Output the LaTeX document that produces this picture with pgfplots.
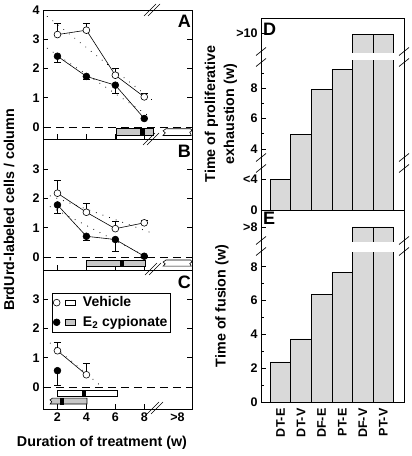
\documentclass[border=0pt]{standalone}
\usepackage{pgfplots}
\pgfplotsset{compat=1.18}
\usepackage{fontspec}
\setmainfont{Liberation Sans}
\newcommand\tl{\fontsize{12.5}{12.5}\selectfont\bfseries}
\newcommand\al{\fontsize{14.3}{16}\selectfont\bfseries}
\tikzset{letter/.style={anchor=north east, font=\fontsize{18}{18}\selectfont\bfseries, inner sep=0pt}}
\begin{document}
\begin{tikzpicture}[x=1pt,y=1pt]
\useasboundingbox (0,0) rectangle (412,456);
\pgfplotsset{
 every axis/.append style={scale only axis, clip=false, axis line style={line width=0.8pt},
   tick style={line width=0.7pt, black}, tick align=inside, major tick length=5pt, minor tick length=3pt,
   tick label style={font=\tl}, /pgf/number format/assume math mode=true},
 lp/.style={anchor=south west, width=149pt, xmin=1, xmax=11.3, xtick={2,4,6,8}, xticklabels={}, xtick pos=bottom, ytick pos=both, ytick={0,1,2,3}, yticklabels={0,1,2,3}},
 veh/.style={black, line width=0.6pt, mark=*, mark size=3.4pt, mark options={fill=white, line width=0.6pt}, error bars/.cd, y dir=plus, y explicit, error bar style={line width=0.6pt}, error mark options={rotate=90, mark size=3.5pt, line width=0.6pt}},
 e2/.style={black, line width=0.6pt, mark=*, mark size=3.4pt, error bars/.cd, y dir=minus, y explicit, error bar style={line width=0.6pt}, error mark options={rotate=90, mark size=3.5pt, line width=0.6pt}},
 reg/.style={black, line width=1.1pt, dash pattern=on 0.01pt off 7pt, line cap=round},
 zero/.style={black, line width=0.7pt, dash pattern=on 8pt off 5pt},
 rbar/.style={fill=black!22, draw=black, line width=0.6pt},
 wbar/.style={fill=white, draw=black, line width=0.6pt},
 mk/.style={fill=black, draw=black, line width=0.3pt},
}
% ---------- Panel A ----------
\begin{axis}[lp, at={(43pt,317pt)}, height=129pt, ymin=-0.41, ymax=4, ytick={0,1,2,3,4}, yticklabels={0,1,2,3,4}]
\addplot[zero] coordinates {(1,0) (11.3,0)};
\addplot[reg] coordinates {(1.3,3.78) (8.7,0.86)};
\addplot[reg] coordinates {(1.3,2.69) (8.4,0.35)};
\addplot[veh] coordinates {(2,3.16) +- (0,0.37) (4,3.31) +- (0,0.22) (6,1.77) +- (0,0.23) (8,1.03) +- (0,0.11)};
\addplot[e2] coordinates {(2,2.42) +- (0,0.2) (4,1.73) +- (0,0.1) (6,1.43) +- (0,0.29) (8,0.29) +- (0,0)};
\addplot[wbar] coordinates {(6.04,-0.28) (8.0,-0.28) (8.0,-0.41) (6.04,-0.41)} -- cycle;
\addplot[rbar] coordinates {(6.04,-0.06) (8.6,-0.06) (8.6,-0.28) (6.04,-0.28)} -- cycle;
\addplot[mk] coordinates {(7.7,-0.06) (7.98,-0.06) (7.98,-0.28) (7.7,-0.28)} -- cycle;
\addplot[wbar] coordinates {(9.5,-0.06) (11.2,-0.06) (11.3,-0.12) (11.15,-0.18) (11.25,-0.29) (9.3,-0.29) (9.45,-0.2) (9.3,-0.13)} -- cycle;
\node[letter] at ([xshift=-1pt,yshift=-5pt]rel axis cs:1,1) {A};
\end{axis}
% ---------- Panel B ----------
\begin{axis}[lp, at={(43pt,186pt)}, height=131pt, ymin=-0.44, ymax=4.03]
\addplot[zero] coordinates {(1,0) (11.3,0)};
\addplot[reg] coordinates {(1.5,2.09) (8.7,0.79)};
\addplot[reg] coordinates {(1.5,1.72) (8.2,0.0)};
\addplot[veh] coordinates {(2,2.18) +- (0,0.43) (4,1.53) +- (0,0.32) (6,0.97) +- (0,0.26) (8,1.17) +- (0,0.09)};
\addplot[e2] coordinates {(2,1.78) +- (0,0.29) (4,0.71) +- (0,0.14) (6,0.6) +- (0,0.39) (8,0.03) +- (0,0)};
\addplot[rbar] coordinates {(3.97,-0.1) (8.05,-0.1) (8.05,-0.31) (3.97,-0.31)} -- cycle;
\addplot[mk] coordinates {(6.35,-0.1) (6.55,-0.1) (6.55,-0.31) (6.35,-0.31)} -- cycle;
\addplot[wbar] coordinates {(9.5,-0.1) (11.2,-0.1) (11.3,-0.16) (11.15,-0.22) (11.25,-0.31) (9.3,-0.31) (9.45,-0.23) (9.3,-0.17)} -- cycle;
\node[letter] at ([xshift=-1pt,yshift=-6pt]rel axis cs:1,1) {B};
\end{axis}
% ---------- Panel C ----------
\begin{axis}[lp, at={(43pt,47pt)}, height=139pt, ymin=-0.75, ymax=4,
  xticklabels={2,4,6,8}, extra x ticks={10.3}, extra x tick labels={>8}, extra x tick style={major tick length=0pt},
  legend style={at={(axis cs:1.6,3.23)}, anchor=north west, draw=black, line width=0.6pt,
    font=\fontsize{14}{14}\selectfont\bfseries, inner xsep=1pt, inner ysep=2pt, row sep=4pt, cells={anchor=west}},
  legend cell align=left]
\addlegendimage{legend image code/.code={\draw[black,fill=white,line width=0.6pt] (4pt,0pt) circle (3.4pt); \draw[black,fill=white,line width=0.6pt] (13pt,-2.8pt) rectangle (23pt,2.8pt);}}
\addlegendentry{\hspace{5pt}Vehicle}
\addlegendimage{legend image code/.code={\draw[black,fill=black,line width=0.6pt] (4pt,0pt) circle (3.4pt); \draw[black,fill=black!22,line width=0.6pt] (13pt,-2.8pt) rectangle (23pt,2.8pt);}}
\addlegendentry{\hspace{5pt}E\textsubscript{2} cypionate}
\addplot[zero] coordinates {(1,0) (11.3,0)};
\addplot[reg] coordinates {(1.5,1.5) (4.85,0.1)};
\addplot[veh] coordinates {(2,1.24) +- (0,0.28) (4,0.42) +- (0,0.4)};
\addplot[e2] coordinates {(2,0.56) +- (0,0.5)};
\addplot[wbar] coordinates {(1.97,-0.1) (6.11,-0.1) (6.11,-0.31) (1.97,-0.31)} -- cycle;
\addplot[mk] coordinates {(3.7,-0.1) (3.9,-0.1) (3.9,-0.31) (3.7,-0.31)} -- cycle;
\addplot[rbar] coordinates {(1.65,-0.38) (4.04,-0.38) (4.04,-0.58) (1.5,-0.58) (1.6,-0.5) (1.48,-0.44)} -- cycle;
\addplot[mk] coordinates {(2.2,-0.38) (2.4,-0.38) (2.4,-0.58) (2.2,-0.58)} -- cycle;
\node[letter] at ([xshift=-1pt,yshift=-6pt]rel axis cs:1,1) {C};
\end{axis}
% ---------- Panel D ----------
\begin{axis}[at={(261pt,246pt)}, anchor=south west, width=143pt, height=192pt, xmin=0.05, xmax=7, ymin=0, ymax=12.6,
  xtick=\empty, ytick pos=left, ytick={0,2.03,4,6,8,11.6}, yticklabels={0,<4,4,6,8,>10}, minor ytick={5,7,9}]
\addplot[ybar, bar width=1, fill=black!15, draw=black, line width=0.7pt] coordinates {(1,2.03) (2,4.98) (3,7.93) (4,9.25) (5,11.5) (6,11.5)};
\fill[white] (axis cs:4.45,9.84) rectangle (axis cs:6.56,10.3);
\node[anchor=north west, font=\fontsize{18}{18}\selectfont\bfseries, inner sep=0pt] at ([xshift=2pt,yshift=-5pt]rel axis cs:0,1) {D};
\end{axis}
% ---------- Panel E ----------
\begin{axis}[at={(261pt,54pt)}, anchor=south west, width=143pt, height=192pt, xmin=0.05, xmax=7, ymin=0, ymax=11.36,
  xtick={1,2,3,4,5,6}, xticklabels={DT-E,DT-V,DF-E,PT-E,DF-V,PT-V}, xtick pos=bottom, major x tick style={draw=none},
  xticklabel style={rotate=90, anchor=east, xshift=-3pt},
  ytick pos=left, ytick={0,2,4,6,8,10.36}, yticklabels={0,2,4,6,8,>8}, minor ytick={1,3,5,7}]
\addplot[ybar, bar width=1, fill=black!15, draw=black, line width=0.7pt] coordinates {(1,2.37) (2,3.73) (3,6.39) (4,7.69) (5,10.36) (6,10.36)};
\fill[white] (axis cs:4.45,8.87) rectangle (axis cs:6.56,9.45);
\node[anchor=north west, font=\fontsize{18}{18}\selectfont\bfseries, inner sep=0pt] at ([xshift=2pt,yshift=-2pt]rel axis cs:0,1) {E};
\end{axis}
% ---------- break marks ----------
\foreach \cx/\cy in {152/446, 151/317, 153/187, 155/48} {
  \draw[line width=0.7pt] (\cx-8,\cy-6) -- (\cx+4,\cy+6) (\cx-4,\cy-6) -- (\cx+8,\cy+6);
}
\foreach \cx/\cy in {261/399, 261/293, 404/399, 404/293, 261/210, 404/210} {
  \draw[line width=0.7pt] (\cx-5,\cy-9.5) -- (\cx+5,\cy-1.5) (\cx-5,\cy+1.5) -- (\cx+5,\cy+9.5);
}
% ---------- axis labels ----------
\node[rotate=90, font=\al] at (9,246) {BrdUrd-labeled cells / column};
\node[font=\al] at (102,13) {Duration of treatment (w)};
\node[rotate=90, font=\al, align=center] at (221,342) {Time of proliferative\\[3pt]exhaustion (w)};
\node[rotate=90, font=\al] at (222,150) {Time of fusion (w)};
\end{tikzpicture}
\end{document}
